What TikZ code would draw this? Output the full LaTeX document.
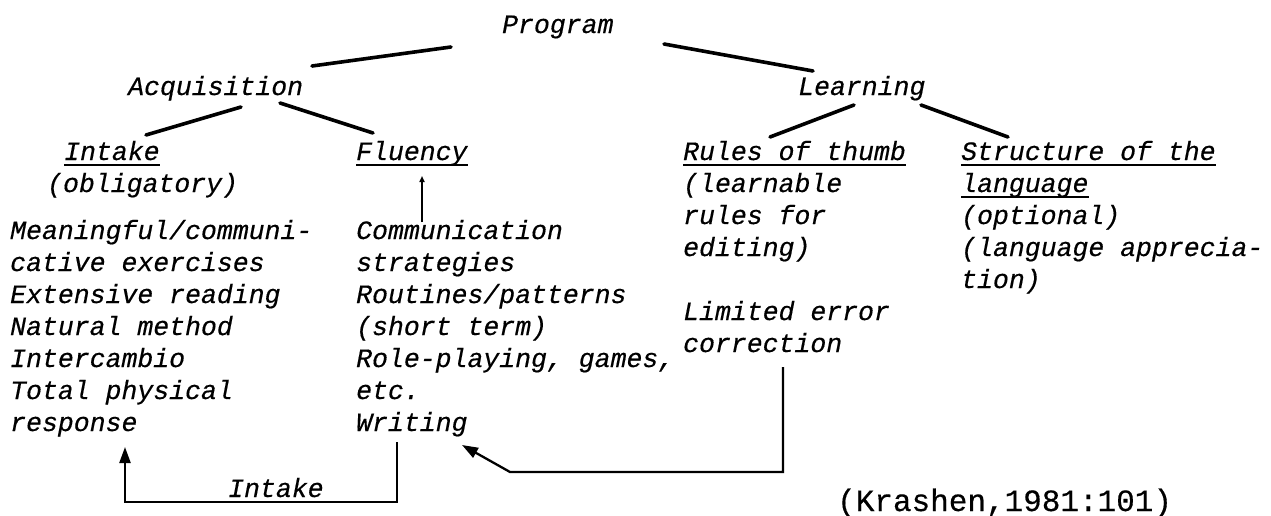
\documentclass[tikz,border=0pt]{standalone}
\usepackage{fontspec}
\newfontfamily\typewriter[FakeBold=0.4]{Liberation Mono}
\usetikzlibrary{arrows.meta,calc}
\begin{document}
\begin{tikzpicture}[x=1pt,y=-1pt,
  txt/.style={font=\typewriter\itshape\fontsize{26.5}{32}\selectfont, inner sep=0pt, anchor=base west},
  src/.style={font=\typewriter\fontsize{31}{31}\selectfont, inner sep=0pt, anchor=base west},
  tree/.style={line width=3.6pt, line cap=round},
  link/.style={line width=2.3pt},
  uline/.style={line width=1.8pt},
  tip/.style={-{Triangle[length=16pt,width=11pt]}}]
\useasboundingbox (0,0) rectangle (1271,515);

% tree headings
\node[txt] (prog) at (502,33) {Program};
\node[txt] (acq) at (128,95) {Acquisition};
\node[txt] (learn) at (798,95) {Learning};
\node[txt] (intake) at (64,160) {Intake};
\node[txt] (flu) at (356,160) {Fluency};
\node[txt] (rules) at (683,160) {Rules of thumb};
\node[txt] (struct) at (961,160) {Structure of the};

% notes under the headings
\node[txt] (oblig) at (47,192) {(obligatory)};
\node[txt] (rl1) at (683,192) {(learnable};
\node[txt] (rl2) at (683,224) {rules for};
\node[txt] (rl3) at (683,256) {editing)};
\node[txt] (lim1) at (683,320) {Limited error};
\node[txt] (lim2) at (683,352) {correction};
\node[txt] (lang) at (961,192) {language};
\node[txt] (st1) at (961,224) {(optional)};
\node[txt] (st2) at (961,256) {(language apprecia-};
\node[txt] (st3) at (961,288) {tion)};

% activity lists
\foreach \t [count=\i] in {Meaningful/communi-, cative exercises, Extensive reading,
    Natural method, Intercambio, Total physical, response}
  \node[txt] (ex-\i) at (10,207+32*\i) {\t};
\foreach \t [count=\i] in {Communication, strategies, Routines/patterns,
    (short term), {Role-playing, games,}, etc., Writing}
  \node[txt] (fl-\i) at (356,207+32*\i) {\t};

% underlined headings
\foreach \n in {intake,flu,rules,struct,lang}
  \draw[uline] ([yshift=-5pt]\n.base west) -- ([yshift=-5pt]\n.base east);

% tree branches
\draw[tree] ($(prog.base west)+(-51,14)$) -- ($(acq.base west)+(184,-29)$);
\draw[tree] ($(prog.base west)+(162,11)$) -- ($(learn.base west)+(15,-24)$);
\draw[tree] ($(acq.base west)+(113,12)$) -- ($(intake.base west)+(82,-25)$);
\draw[tree] ($(acq.base west)+(152,8)$) -- ($(flu.base west)+(17,-27)$);
\draw[tree] ($(learn.base west)+(56,10)$) -- ($(rules.base west)+(87,-23)$);
\draw[tree] ($(learn.base west)+(123,10)$) -- ($(struct.base west)+(47,-23)$);

% fluency activities feed fluency
\draw[line width=2pt, -{Triangle[length=6pt,width=5pt]}]
  ($(fl-1.base west)+(66,-17)$) -- ($(flu.base west)+(66,16)$);

% intake loop from writing back to the intake list
\draw[link, tip] ($(fl-7.base west)+(41,11)$) |- ($(ex-7.base west)+(115,71)$)
  -- ($(ex-7.base west)+(115,16)$);
\node[txt] (loop) at (228,497) {Intake};

% error correction feeds writing
\draw[link, tip] ($(lim2.base west)+(100,15)$) |- ($(fl-7.base west)+(154,41)$)
  -- ($(fl-7.base west)+(106,14)$);

% source
\node[src] (cite) at (837,511) {(Krashen,1981:101)};
\end{tikzpicture}
\end{document}
